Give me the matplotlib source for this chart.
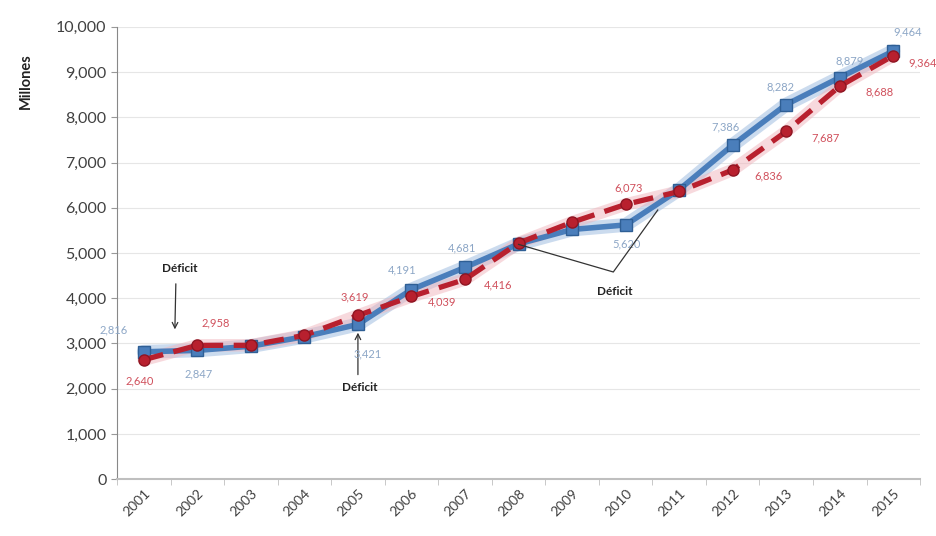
import matplotlib

matplotlib.use("Agg")
import matplotlib.pyplot as plt
import matplotlib.ticker as mticker
import numpy as np

plt.rcParams["font.family"] = ["Lato", "DejaVu Sans"]

years = ["2001", "2002", "2003", "2004", "2005", "2006", "2007", "2008",
         "2009", "2010", "2011", "2012", "2013", "2014", "2015"]
# blue series (solid) and red series (dashed), millions
blue_values = [2816, 2847, 2940, 3150, 3421, 4191, 4681, 5200,
               5520, 5620, 6400, 7386, 8282, 8879, 9464]
red_values = [2640, 2958, 2960, 3180, 3619, 4039, 4416, 5220,
              5680, 6073, 6360, 6836, 7687, 8688, 9364]
# which points carry a data label
labeled_idx = [0, 1, 4, 5, 6, 9, 11, 12, 13, 14]

# label offsets in points (dx, dy) relative to the marker
blue_offsets = {0: (-22, 16), 1: (1, -17), 4: (7, -21), 5: (-7, 14), 6: (-2, 14),
                9: (1, -14), 11: (-5, 13), 12: (-4, 13), 13: (7, 12), 14: (10, 14)}
red_offsets = {0: (-3, -15), 1: (13, 16), 4: (-2, 13), 5: (22, -4), 6: (24, -4),
               9: (2, 12), 11: (26, -4), 12: (28, -5), 13: (29, -4), 14: (21, -5)}

BLUE = "#4A7EBB"
RED = "#B8202E"

fig = plt.figure(figsize=(9.36, 5.36), dpi=100)
ax = fig.add_axes([0.125, 0.106, 0.858, 0.844])

x = np.arange(len(years))

# soft glow under each line
ax.plot(x, blue_values, color="#A9C4E4", lw=10, alpha=0.6, solid_capstyle="round", zorder=2)
ax.plot(x, red_values, color="#F0B4BC", lw=9, alpha=0.5, solid_capstyle="round", zorder=2)

ax.plot(x, blue_values, color=BLUE, lw=4, marker="s", markersize=8,
        markerfacecolor=BLUE, markeredgecolor="#2F5F95", zorder=3)
ax.plot(x, red_values, color=RED, lw=3.8, ls=(0, (3.8, 2.0)), marker="o", markersize=8,
        markerfacecolor=RED, markeredgecolor="#8E1522", zorder=4)

for i in labeled_idx:
    dx, dy = blue_offsets[i]
    ax.annotate(f"{blue_values[i]:,}", (x[i], blue_values[i]), xytext=(dx, dy),
                textcoords="offset points", ha="center", va="center",
                fontsize=8, color="#8CA6C6", zorder=5)
    dx, dy = red_offsets[i]
    ax.annotate(f"{red_values[i]:,}", (x[i], red_values[i]), xytext=(dx, dy),
                textcoords="offset points", ha="center", va="center",
                fontsize=8, color="#D0505C", zorder=5)

# deficit callouts
ax.annotate("", xy=(0.58, 3250), xytext=(0.6, 4380),
            arrowprops=dict(arrowstyle="->", color="#333333", lw=0.9))
ax.text(0.67, 4650, "Déficit", ha="center", va="center", fontsize=8.5,
        fontweight="bold", color="#222222")

ax.annotate("", xy=(4.0, 3300), xytext=(4.0, 2250),
            arrowprops=dict(arrowstyle="->", color="#333333", lw=0.9))
ax.text(4.04, 2030, "Déficit", ha="center", va="center", fontsize=8.5,
        fontweight="bold", color="#222222")

ax.plot([7, 8.77, 9.6], [5190, 4580, 5950], color="#333333", lw=0.9, zorder=5)
ax.text(8.8, 4150, "Déficit", ha="center", va="center", fontsize=8.5,
        fontweight="bold", color="#222222")

ax.set_xlim(-0.5, len(years) - 0.5)
ax.set_ylim(0, 10000)
ax.set_xticks(x)
ax.set_xticklabels(years, rotation=45, ha="right", rotation_mode="anchor",
                   fontsize=10, color="#404040")
ax.set_xticks(np.arange(-0.5, len(years), 1), minor=True)
ax.tick_params(axis="x", which="major", length=0, pad=6)
ax.tick_params(axis="x", which="minor", length=4, color="#BFBFBF")
ax.yaxis.set_major_locator(mticker.MultipleLocator(1000))
ax.yaxis.set_major_formatter(mticker.FuncFormatter(lambda v, _: f"{int(v):,}"))
ax.tick_params(axis="y", labelsize=11.5, colors="#404040", length=4, color="#999999")
ax.grid(axis="y", color="#E6E6E6", lw=0.8)
ax.set_axisbelow(True)

for side in ("top", "right"):
    ax.spines[side].set_visible(False)
ax.spines["left"].set_color("#888888")
ax.spines["bottom"].set_color("#BFBFBF")
ax.spines["bottom"].set_linewidth(1.5)

ax.set_ylabel("Millones", fontsize=10.5, fontweight="bold", color="#222222")
ax.yaxis.set_label_coords(-0.105, 0.88)

fig.savefig("out.png", dpi=100)
